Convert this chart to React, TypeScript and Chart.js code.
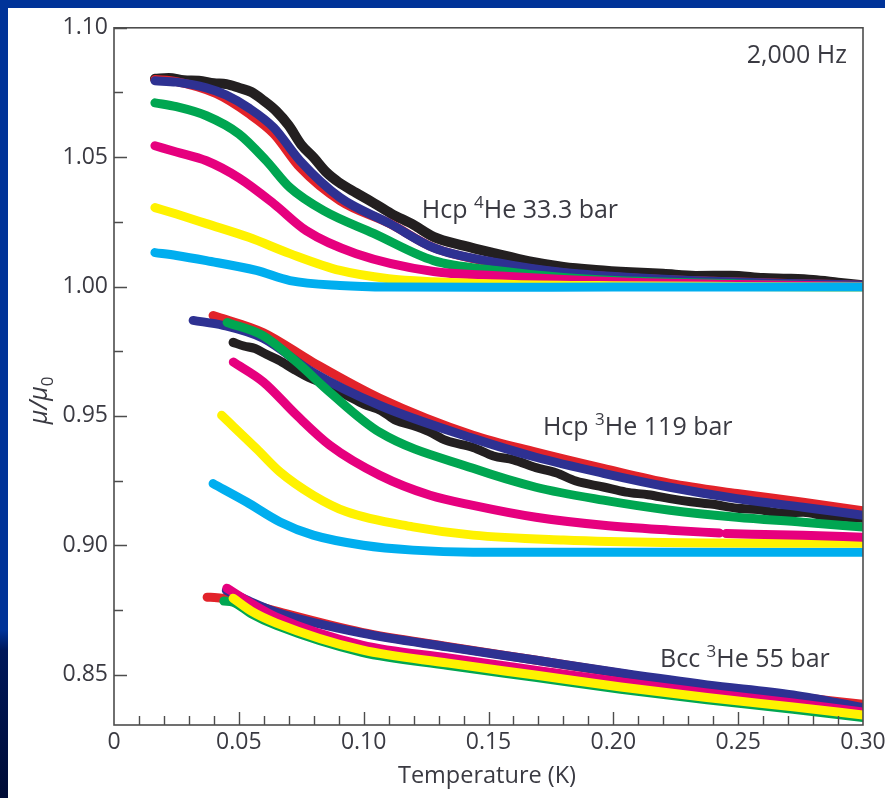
import React, { useEffect, useRef } from "react";
import { Chart, registerables } from "chart.js";

Chart.register(...registerables);

// ---------- axis ticks ----------
const X_TICKS = [0, 0.05, 0.1, 0.15, 0.2, 0.25, 0.3];
const Y_TICKS = [0.85, 0.9, 0.95, 1.0, 1.05, 1.1];
const X_MIN = 0, X_MAX = 0.3, Y_MIN = 0.8305, Y_MAX = 1.1;

// ---------- Hcp 4He 33.3 bar ----------
const G1_BLACK_T = [0.0164, 0.022, 0.028, 0.034, 0.040, 0.045, 0.050, 0.055, 0.060, 0.065, 0.070, 0.075, 0.080, 0.085, 0.090, 0.097, 0.104, 0.111, 0.120, 0.128, 0.140, 0.153, 0.166, 0.180, 0.193, 0.207, 0.220, 0.233, 0.247, 0.260, 0.270, 0.280, 0.290, 0.300];
const G1_BLACK_V = [1.0803, 1.0806, 1.0797, 1.0795, 1.0786, 1.0782, 1.0768, 1.0752, 1.0718, 1.0678, 1.0622, 1.0548, 1.0498, 1.0442, 1.0403, 1.0362, 1.0323, 1.0282, 1.0238, 1.0192, 1.0158, 1.0127, 1.0098, 1.0076, 1.0064, 1.0055, 1.0049, 1.0041, 1.0042, 1.0033, 1.003, 1.0025, 1.0015, 1.0005];
const G1_RED_T = [0.0164, 0.025, 0.041, 0.054, 0.064, 0.0745, 0.0905, 0.1105, 0.128, 0.153, 0.18, 0.207, 0.24, 0.27, 0.3];
const G1_RED_V = [1.08, 1.0792, 1.0745, 1.0668, 1.059, 1.046, 1.0332, 1.0243, 1.015, 1.009, 1.0052, 1.0033, 1.002, 1.0012, 1.0005];
const G1_BLUE_T = [0.0164, 0.025, 0.037, 0.045, 0.054, 0.064, 0.0745, 0.0905, 0.1105, 0.128, 0.153, 0.18, 0.207, 0.24, 0.27, 0.3];
const G1_BLUE_V = [1.0795, 1.079, 1.0768, 1.074, 1.069, 1.0614, 1.0486, 1.0344, 1.0243, 1.015, 1.0093, 1.0054, 1.0035, 1.002, 1.0012, 1.0005];
const G1_GREEN_T = [0.0164, 0.025, 0.037, 0.05, 0.061, 0.0705, 0.084, 0.104, 0.128, 0.153, 0.18, 0.21, 0.25, 0.3];
const G1_GREEN_V = [1.071, 1.0695, 1.066, 1.059, 1.0486, 1.0382, 1.0293, 1.0205, 1.01, 1.0062, 1.0035, 1.002, 1.001, 1.0];
const G1_MAGENTA_T = [0.0164, 0.025, 0.037, 0.05, 0.064, 0.077, 0.097, 0.128, 0.153, 0.18, 0.21, 0.25, 0.3];
const G1_MAGENTA_V = [1.0544, 1.052, 1.0486, 1.042, 1.032, 1.0216, 1.0127, 1.0058, 1.0042, 1.0027, 1.0015, 1.0008, 1.0];
const G1_YELLOW_T = [0.0164, 0.025, 0.037, 0.054, 0.0705, 0.0905, 0.11, 0.128, 0.16, 0.2, 0.25, 0.3];
const G1_YELLOW_V = [1.0305, 1.028, 1.0243, 1.019, 1.0127, 1.0062, 1.003, 1.0018, 1.0008, 1.0003, 1.0, 0.9998];
const G1_CYAN_T = [0.0164, 0.025, 0.037, 0.057, 0.0705, 0.0905, 0.11, 0.15, 0.2, 0.25, 0.3];
const G1_CYAN_V = [1.0131, 1.012, 1.01, 1.0062, 1.0023, 1.0004, 0.9998, 0.9997, 0.9998, 0.9998, 0.9998];

// ---------- Hcp 3He 119 bar ----------
const G2_BLACK_T = [0.0477, 0.052, 0.0565, 0.061, 0.066, 0.072, 0.078, 0.085, 0.0933, 0.1, 0.107, 0.113, 0.1197, 0.126, 0.133, 0.1438, 0.152, 0.16, 0.169, 0.177, 0.185, 0.196, 0.205, 0.214, 0.2227, 0.231, 0.24, 0.2495, 0.258, 0.267, 0.276, 0.285, 0.293, 0.3];
const G2_BLACK_V = [0.9784, 0.977, 0.976, 0.9738, 0.9715, 0.968, 0.9648, 0.962, 0.9579, 0.9545, 0.952, 0.9482, 0.9463, 0.944, 0.9405, 0.9378, 0.9345, 0.933, 0.93, 0.928, 0.9248, 0.9225, 0.9205, 0.9195, 0.918, 0.9168, 0.9158, 0.9143, 0.9138, 0.9125, 0.9127, 0.9112, 0.9108, 0.9104];
const G2_RED_T = [0.0397, 0.0597, 0.0797, 0.1065, 0.1438, 0.169, 0.196, 0.2227, 0.2495, 0.276, 0.3];
const G2_RED_V = [0.9888, 0.9822, 0.9707, 0.9568, 0.9425, 0.936, 0.9297, 0.9239, 0.92, 0.9166, 0.9133];
const G2_BLUE_T = [0.0317, 0.0437, 0.0597, 0.0797, 0.1065, 0.1438, 0.169, 0.196, 0.2227, 0.2495, 0.276, 0.3];
const G2_BLUE_V = [0.9869, 0.985, 0.98, 0.9668, 0.954, 0.9413, 0.934, 0.9278, 0.9224, 0.918, 0.9147, 0.9116];
const G2_GREEN_T = [0.0453, 0.0597, 0.0733, 0.0865, 0.1065, 0.1438, 0.169, 0.196, 0.2227, 0.2495, 0.276, 0.3];
const G2_GREEN_V = [0.9861, 0.981, 0.9707, 0.9591, 0.9436, 0.9297, 0.9224, 0.9174, 0.9135, 0.9108, 0.9089, 0.907];
const G2_MAGENTA_T = [0.0478, 0.0598, 0.0732, 0.0865, 0.1065, 0.1266, 0.1438, 0.169, 0.196, 0.2227, 0.2425, 0.2438, 0.2452, 0.276, 0.3];
const G2_MAGENTA_V = [0.9708, 0.9631, 0.9502, 0.9386, 0.927, 0.9193, 0.9154, 0.9108, 0.9077, 0.9058, 0.9047, null, 0.9045, 0.9038, 0.9031];
const G2_YELLOW_T = [0.0431, 0.0571, 0.0665, 0.0798, 0.0932, 0.1197, 0.1438, 0.18, 0.22, 0.26, 0.3];
const G2_YELLOW_V = [0.9502, 0.9373, 0.9283, 0.9193, 0.9129, 0.9071, 0.9039, 0.902, 0.901, 0.9008, 0.9008];
const G2_CYAN_T = [0.0397, 0.0531, 0.0665, 0.0798, 0.0998, 0.1197, 0.1438, 0.2, 0.25, 0.3];
const G2_CYAN_V = [0.9238, 0.9167, 0.909, 0.9039, 0.9, 0.8981, 0.8973, 0.8973, 0.8973, 0.8973];

// ---------- Bcc 3He 55 bar ----------
const G3_RED_T = [0.0373, 0.0413, 0.048, 0.065, 0.0993, 0.134, 0.1686, 0.203, 0.2375, 0.272, 0.3];
const G3_RED_V = [0.8799, 0.8797, 0.879, 0.8745, 0.8663, 0.8608, 0.8556, 0.8504, 0.8452, 0.8415, 0.8385];
const G3_BLUE_T = [0.045, 0.055, 0.065, 0.0993, 0.134, 0.1686, 0.203, 0.2375, 0.272, 0.3];
const G3_BLUE_V = [0.8825, 0.878, 0.8741, 0.866, 0.8606, 0.8556, 0.8506, 0.846, 0.8421, 0.8372];
const G3_MAGENTA_T = [0.0452, 0.055, 0.065, 0.0993, 0.134, 0.1686, 0.203, 0.2375, 0.272, 0.3];
const G3_MAGENTA_V = [0.8834, 0.8775, 0.8722, 0.8614, 0.8564, 0.8517, 0.8471, 0.8429, 0.839, 0.8355];
const G3_GREEN_T = [0.044, 0.0477, 0.055, 0.065, 0.0993, 0.134, 0.1686, 0.203, 0.2375, 0.272, 0.3];
const G3_GREEN_V = [0.8784, 0.878, 0.8735, 0.869, 0.8586, 0.8535, 0.8489, 0.8443, 0.8402, 0.8366, 0.8334];
const G3_YELLOW_T = [0.0477, 0.055, 0.065, 0.0993, 0.134, 0.1686, 0.203, 0.2375, 0.272, 0.3];
const G3_YELLOW_V = [0.8795, 0.8745, 0.8699, 0.8595, 0.8544, 0.8498, 0.8452, 0.8411, 0.8375, 0.8344];

const C = {
  black: "#231f20",
  red: "#e2232a",
  blue: "#2e3192",
  green: "#00a651",
  magenta: "#e6007e",
  yellow: "#fff200",
  cyan: "#00aeef",
};

const FONT = '"Open Sans", "Liberation Sans", sans-serif';
const TEXT = "#3a3a42";

// [T, V, colour, width] listed top-most first
const SERIES: [number[], (number | null)[], string, number][] = [
  [G1_CYAN_T, G1_CYAN_V, C.cyan, 9],
  [G1_YELLOW_T, G1_YELLOW_V, C.yellow, 9],
  [G1_MAGENTA_T, G1_MAGENTA_V, C.magenta, 9],
  [G1_GREEN_T, G1_GREEN_V, C.green, 9],
  [G1_BLUE_T, G1_BLUE_V, C.blue, 9],
  [G1_RED_T, G1_RED_V, C.red, 9],
  [G1_BLACK_T, G1_BLACK_V, C.black, 10],
  [G2_GREEN_T, G2_GREEN_V, C.green, 9],
  [G2_BLUE_T, G2_BLUE_V, C.blue, 9],
  [G2_RED_T, G2_RED_V, C.red, 9],
  [G2_BLACK_T, G2_BLACK_V, C.black, 9],
  [G2_MAGENTA_T, G2_MAGENTA_V, C.magenta, 9],
  [G2_YELLOW_T, G2_YELLOW_V, C.yellow, 9],
  [G2_CYAN_T, G2_CYAN_V, C.cyan, 9],
  [G3_YELLOW_T, G3_YELLOW_V, C.yellow, 9],
  [G3_GREEN_T, G3_GREEN_V, C.green, 9],
  [G3_MAGENTA_T, G3_MAGENTA_V, C.magenta, 9],
  [G3_BLUE_T, G3_BLUE_V, C.blue, 9],
  [G3_RED_T, G3_RED_V, C.red, 9],
];

// annotation label anchors (data units)
const LABELS: { x: number; y: number; align: CanvasTextAlign; parts: [string, boolean][] }[] = [
  { x: 0.2936, y: 1.0892, align: "right", parts: [["2,000 Hz", false]] },
  { x: 0.1233, y: 1.0293, align: "left", parts: [["Hcp ", false], ["4", true], ["He 33.3 bar", false]] },
  { x: 0.1718, y: 0.9452, align: "left", parts: [["Hcp ", false], ["3", true], ["He 119 bar", false]] },
  { x: 0.2187, y: 0.8556, align: "left", parts: [["Bcc ", false], ["3", true], ["He 55 bar", false]] },
];

function drawRich(ctx: CanvasRenderingContext2D, parts: [string, boolean][], x: number, y: number, align: CanvasTextAlign) {
  const big = `25px ${FONT}`;
  const small = `17px ${FONT}`;
  let total = 0;
  for (const [t, sup] of parts) {
    ctx.font = sup ? small : big;
    total += ctx.measureText(t).width;
  }
  let cx = align === "right" ? x - total : x;
  ctx.textAlign = "left";
  ctx.textBaseline = "middle";
  for (const [t, sup] of parts) {
    ctx.font = sup ? small : big;
    ctx.fillText(t, cx, sup ? y - 8 : y);
    cx += ctx.measureText(t).width;
  }
}

const framePlugin = {
  id: "frameAndText",
  afterDatasetsDraw(chart: any) {
    const { ctx, chartArea: a, scales } = chart;
    const xs = scales.x, ys = scales.y;
    ctx.save();
    ctx.strokeStyle = "#4d4d4d";
    ctx.lineWidth = 1.6;
    ctx.strokeRect(a.left, a.top, a.right - a.left, a.bottom - a.top);
    ctx.lineWidth = 1.4;
    ctx.beginPath();
    for (let i = 1; i < 30; i++) {
      const px = Math.round(xs.getPixelForValue(i / 100)) + 0.5;
      const len = i % 5 === 0 ? 13 : 9;
      ctx.moveTo(px, a.bottom);
      ctx.lineTo(px, a.bottom - len);
    }
    for (let i = 0; i <= 10; i++) {
      const v = 0.85 + i * 0.025;
      const py = Math.round(ys.getPixelForValue(v)) + 0.5;
      const len = i % 2 === 0 ? 13 : 9;
      ctx.moveTo(a.left, py);
      ctx.lineTo(a.left + len, py);
    }
    ctx.stroke();

    ctx.fillStyle = TEXT;
    for (const l of LABELS) {
      drawRich(ctx, l.parts, xs.getPixelForValue(l.x), ys.getPixelForValue(l.y), l.align);
    }

    // x-axis title
    ctx.font = `23.5px ${FONT}`;
    ctx.textAlign = "center";
    ctx.textBaseline = "middle";
    ctx.fillText("Temperature (K)", xs.getPixelForValue(0.1494), a.bottom + 51);

    // y-axis title  μ/μ0
    ctx.translate(a.left - 74, ys.getPixelForValue(0.956));
    ctx.rotate(-Math.PI / 2);
    const p1 = "\u03bc/\u03bc";
    ctx.font = `italic 25px ${FONT}`;
    const w1 = ctx.measureText(p1).width;
    ctx.font = `17px ${FONT}`;
    const w2 = ctx.measureText("0").width;
    const start = -(w1 + w2) / 2;
    ctx.textAlign = "left";
    ctx.font = `italic 25px ${FONT}`;
    ctx.fillText(p1, start, 0);
    ctx.font = `17px ${FONT}`;
    ctx.fillText("0", start + w1, 8);
    ctx.restore();
  },
};

export default function App() {
  const ref = useRef<HTMLCanvasElement | null>(null);

  useEffect(() => {
    const html = document.documentElement;
    html.style.height = "100%";
    html.style.overflow = "hidden";
    html.style.background =
      "linear-gradient(to bottom, #003399 0%, #003399 79%, #00185a 81.5%, #000c36 100%)";
    document.body.style.margin = "8px 0 0 8px";
    document.body.style.overflow = "hidden";

    const datasets = SERIES.map(([T, V, color, w], i) => ({
      data: T.map((t, k) => ({ x: t, y: V[k] })),
      borderColor: color,
      backgroundColor: color,
      borderWidth: w,
      pointRadius: 0,
      borderCapStyle: "round" as const,
      borderJoinStyle: "round" as const,
      cubicInterpolationMode: "monotone" as const,
      spanGaps: false,
      order: i,
      clip: 0,
    }));

    const chart = new Chart(ref.current!, {
      type: "line",
      data: { datasets },
      options: {
        animation: false,
        responsive: false,
        devicePixelRatio: 1,
        layout: { padding: { top: 19, right: 55, left: 0, bottom: 0 } },
        plugins: { legend: { display: false }, tooltip: { enabled: false } },
        scales: {
          x: {
            type: "linear",
            min: X_MIN,
            max: X_MAX,
            afterBuildTicks: (s: any) => { s.ticks = X_TICKS.map((v) => ({ value: v })); },
            afterFit: (s: any) => { s.height = 73; },
            grid: { display: false, drawTicks: false },
            border: { display: false },
            ticks: {
              autoSkip: false,
              maxRotation: 0,
              padding: 4,
              color: TEXT,
              font: { family: FONT, size: 23 },
              callback: (v: any) => (Number(v) === 0 ? "0" : Number(v).toFixed(2)),
            },
          },
          y: {
            type: "linear",
            min: Y_MIN,
            max: Y_MAX,
            afterBuildTicks: (s: any) => { s.ticks = Y_TICKS.map((v) => ({ value: v })); },
            afterFit: (s: any) => { s.width = 106; },
            grid: { display: false, drawTicks: false },
            border: { display: false },
            ticks: {
              autoSkip: false,
              padding: 6,
              color: TEXT,
              font: { family: FONT, size: 23 },
              callback: (v: any) => Number(v).toFixed(2),
            },
          },
        },
      },
      plugins: [framePlugin],
    });
    return () => chart.destroy();
  }, []);

  return (
    <div style={{ width: 877, height: 790, overflow: "hidden", background: "#fff" }}>
      <canvas ref={ref} width={910} height={790} style={{ display: "block", width: 910, height: 790 }} />
    </div>
  );
}
